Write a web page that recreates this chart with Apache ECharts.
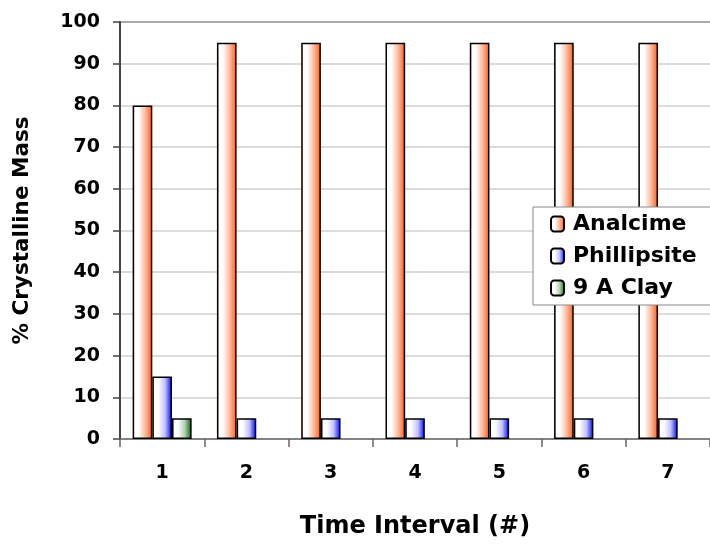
<!DOCTYPE html>
<html>
<head>
<meta charset="utf-8">
<script src="https://cdn.jsdelivr.net/npm/echarts@6/dist/echarts.min.js"></script>
<style>
html,body{margin:0;padding:0;background:#fff;}
#chart{width:710px;height:544px;}
</style>
</head>
<body>
<div id="chart"></div>
<script>
const categories = ['1', '2', '3', '4', '5', '6', '7'];
const analcime = [80, 95, 95, 95, 95, 95, 95];
const phillipsite = [15, 5, 5, 5, 5, 5, 5];
const clay = [5, 0, 0, 0, 0, 0, 0];
const yTicks = [0, 10, 20, 30, 40, 50, 60, 70, 80, 90, 100];

function grad(edge, mid) {
  return new echarts.graphic.LinearGradient(0, 0, 1, 0, [
    {offset: 0, color: edge},
    {offset: 0.1, color: '#ffffff'},
    {offset: 0.3, color: '#ffffff'},
    {offset: 0.65, color: mid},
    {offset: 1, color: edge}
  ]);
}
// zero values draw no visible bar in the reference
const hideZero = arr => arr.map(v => (v === 0 ? null : v));

const chart = echarts.init(document.getElementById('chart'), null, {renderer: 'canvas'});
const font = 'DejaVu Sans, Verdana, sans-serif';
const gridColors = yTicks.map((v, i) => i === yTicks.length - 1 ? '#8c8c8c' : '#d0d0d0');

chart.setOption({
  backgroundColor: '#ffffff',
  animation: false,
  grid: {left: 120, top: 22, right: -7, bottom: 105},
  legend: {
    orient: 'vertical',
    left: 533,
    top: 207,
    backgroundColor: '#ffffff',
    borderColor: '#888888',
    borderWidth: 1,
    padding: [6, 60, 6, 17],
    itemGap: 10,
    itemWidth: 13,
    itemHeight: 15,
    textStyle: {fontFamily: font, fontWeight: 'bold', fontSize: 22, color: '#000', padding: [0, 0, 0, 4]},
    data: ['Analcime', 'Phillipsite', '9 A Clay']
  },
  xAxis: {
    type: 'category',
    data: categories,
    name: 'Time Interval (#)',
    nameLocation: 'middle',
    nameGap: 76,
    nameTextStyle: {fontFamily: font, fontWeight: 'bold', fontSize: 24, color: '#000'},
    axisLine: {lineStyle: {color: '#666666', width: 1.5}},
    axisTick: {show: true, length: 8, inside: false, lineStyle: {color: '#666666', width: 1.5}},
    axisLabel: {fontFamily: font, fontWeight: 'bold', fontSize: 19, color: '#000', margin: 25}
  },
  yAxis: {
    type: 'value',
    min: 0,
    max: 100,
    interval: 10,
    name: '% Crystalline Mass',
    nameLocation: 'middle',
    nameRotate: 90,
    nameGap: 87,
    nameTextStyle: {fontFamily: font, fontWeight: 'bold', fontSize: 21.5, color: '#000'},
    axisLine: {show: true, lineStyle: {color: '#444444', width: 2}},
    axisTick: {show: true, length: 7, lineStyle: {color: '#444444', width: 1.5}},
    axisLabel: {fontFamily: font, fontWeight: 'bold', fontSize: 19, color: '#000', margin: 20},
    splitLine: {show: true, lineStyle: {color: gridColors, width: 1.5}}
  },
  series: [
    {
      name: 'Analcime', type: 'bar', data: hideZero(analcime),
      barGap: '0%', barCategoryGap: '30%',
      itemStyle: {color: grad('#ff5a14', '#ffb899'), borderColor: '#000', borderWidth: 1.5}
    },
    {
      name: 'Phillipsite', type: 'bar', data: hideZero(phillipsite),
      itemStyle: {color: grad('#0000ff', '#c0c0ff'), borderColor: '#000', borderWidth: 1.5}
    },
    {
      name: '9 A Clay', type: 'bar', data: hideZero(clay),
      itemStyle: {color: grad('#006400', '#b0d0b0'), borderColor: '#000', borderWidth: 1.5}
    }
  ]
});
</script>
</body>
</html>
